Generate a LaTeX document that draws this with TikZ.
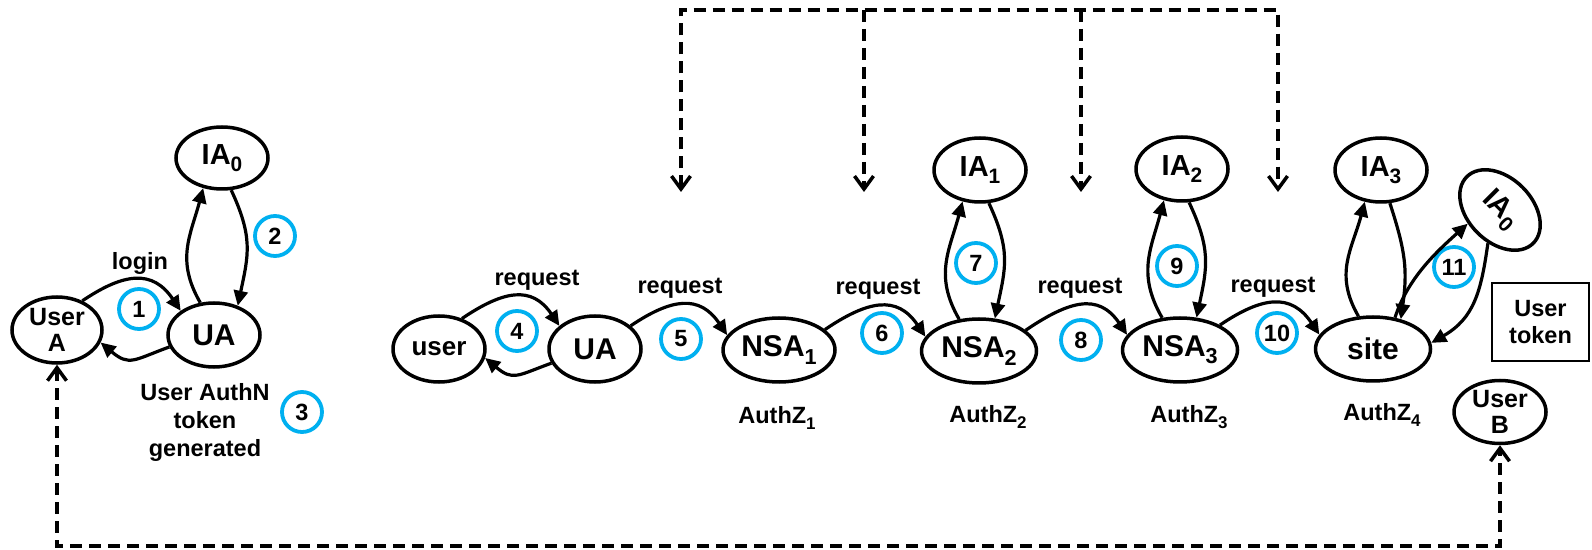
\documentclass[tikz,border=0pt]{standalone}
\usepackage{fontspec}
\setmainfont{Liberation Sans}
\usepackage{graphicx}
\usetikzlibrary{shapes.geometric,arrows.meta}
\definecolor{numblue}{HTML}{00B0F0}
% lowered, smaller index after a label
\newcommand\ix[1]{\raisebox{-0.24em}{\scalebox{0.72}{#1}}}
\newcommand\fbig{\fontsize{30}{32}\selectfont}
\newcommand\fia{\fontsize{29}{31}\selectfont}
\newcommand\fusr{\fontsize{25}{25.5}\selectfont}
\newcommand\flbl{\fontsize{23.5}{28}\selectfont}
\begin{document}
\begin{tikzpicture}[x=1pt,y=1pt,
  every node/.style={font=\bfseries},
  ell/.style={ellipse,draw,line width=3.5pt,inner sep=0pt,
    minimum width=92pt,minimum height=64pt,font=\bfseries\fbig},
  num/.style={circle,draw=numblue,line width=3.8pt,inner sep=0pt,
    minimum size=40pt,font=\bfseries\flbl},
  lbl/.style={inner sep=0pt,font=\bfseries\flbl,align=center},
  arr/.style={line width=3.2pt,-{Triangle[length=15pt,width=14pt]}},
  hop/.style={out=34,in=124,looseness=1.3},
  back/.style={out=200,in=-40,looseness=1.4},
  upl/.style={out=120,in=-105,looseness=1.1},
  dnr/.style={out=-65,in=78,looseness=1.15},
  dline/.style={line width=3.5pt,dash pattern=on 12pt off 7pt},
  vtip/.tip={Straight Barb[length=13pt,width=19pt]}]
\useasboundingbox (0,0) rectangle (1592,549);

% left group
\node[ell,minimum width=90pt,minimum height=66pt,font=\bfseries\fusr,align=center] (ua0) at (57,219) {User\\A};
\node[ell] (uaL) at (214,214) {UA};
\node[ell,minimum height=62pt,font=\bfseries\fia] (ia0L) at (222,391) {IA\ix{0}};

% request chain
\node[ell,minimum height=66pt,font=\bfseries\fontsize{26}{28}\selectfont] (usr) at (439,200) {user};
\node[ell,minimum height=66pt] (uaR) at (595,200) {UA};
\node[ell,minimum width=112pt] (nsa1) at (779,199) {NSA\ix{1}};
\node[ell,minimum width=115pt] (nsa2) at (979,198) {NSA\ix{2}};
\node[ell,minimum width=115pt] (nsa3) at (1180,199) {NSA\ix{3}};
\node[ell,minimum width=115pt] (site) at (1373,200) {site};
\node[ell,font=\bfseries\fia] (ia1) at (980,379) {IA\ix{1}};
\node[ell,font=\bfseries\fia] (ia2) at (1182,380) {IA\ix{2}};
\node[ell,font=\bfseries\fia] (ia3) at (1381,379) {IA\ix{3}};
\node[ell,rotate=-45,minimum width=94pt,font=\bfseries\fia] (ia0R) at (1500,339) {IA\ix{0}};
\node[ell,minimum height=63pt,font=\bfseries\fusr,align=center] (ub) at (1500,137) {User\\B};
\node[draw,line width=2.5pt,minimum width=97pt,minimum height=78pt,inner sep=0pt,
  font=\bfseries\fontsize{23.5}{27}\selectfont,align=center] (tok) at (1540.5,227) {User\\token};

% step numbers
\node[num] (c1) at (139,240) {1};
\node[num] (c2) at (275,313) {2};
\node[num] (c3) at (302,137) {3};
\node[num] (c4) at (517,218) {4};
\node[num] (c5) at (681,210) {5};
\node[num] (c6) at (882,216) {6};
\node[num] (c7) at (976,286) {7};
\node[num] (c8) at (1081,209) {8};
\node[num] (c9) at (1177,283) {9};
\node[num] (c10) at (1277,216) {10};
\node[num] (c11) at (1454,282) {11};

% labels
\node[lbl] (lgn) at (140,286) {login};
\node[lbl] (authn) at (205,127) {User AuthN\\token\\generated};
\node[lbl] (rq4) at (537,269) {request};
\node[lbl] (rq5) at (680,261) {request};
\node[lbl] (rq6) at (878,260) {request};
\node[lbl] (rq8) at (1080,261) {request};
\node[lbl] (rq10) at (1273,262) {request};
\node[lbl] (az1) at (777,131) {AuthZ\ix{1}};
\node[lbl] (az2) at (988,132) {AuthZ\ix{2}};
\node[lbl] (az3) at (1189,132) {AuthZ\ix{3}};
\node[lbl] (az4) at (1382,134) {AuthZ\ix{4}};

% solid message arrows
\draw[arr] (ua0.49) to[hop] (uaL.144);
\draw[arr] (uaL.195) to[back] (ua0.344);
\draw[arr] (uaL.113) to[upl] (ia0L.238);
\draw[arr] (ia0L.286) to[dnr] (uaL.51);

\draw[arr] (usr.53) to[hop] (uaR.147);
\draw[arr] (uaR.198) to[back] (usr.349);
\draw[arr] (uaR.33) to[hop] (nsa1.164);
\draw[arr] (nsa1.24) to[hop] (nsa2.165);
\draw[arr] (nsa2.24) to[hop] (nsa3.164);
\draw[arr] (nsa3.32) to[hop] (site.165);

\draw[arr] (nsa2.122) to[upl] (ia1.241);
\draw[arr] (ia1.285) to[dnr] (nsa2.64);
\draw[arr] (nsa3.119) to[upl] (ia2.240);
\draw[arr] (ia2.282) to[dnr] (nsa3.63);
\draw[arr] (site.114) to[upl] (ia3.243);
\draw[arr] (ia3.285) to[out=-72,in=82,looseness=1.1] (site.47);
\draw[arr] (site.55) to[out=72,in=222,looseness=0.9] (ia0R.248);
\draw[arr] (ia0R.295) to[out=-98,in=30,looseness=1.1] (site.6);

% dashed distribution lines
\coordinate (t1) at (681,539);
\coordinate (t2) at (864,539);
\coordinate (t3) at (1081,539);
\coordinate (t4) at (1278,539);
\coordinate (d1) at (681,357);
\coordinate (d2) at (864,357);
\coordinate (d3) at (1081,357);
\coordinate (d4) at (1278,357);
\draw[dline,vtip-vtip] (d1) -- (t1) -- (t4) -- (d4);
\draw[dline,-vtip] (t2) -- (d2);
\draw[dline,-vtip] (t3) -- (d3);

\coordinate (bl) at (57,3);
\coordinate (br) at (1500,3);
\draw[dline,vtip-vtip] (ua0.south) -- (bl) -- (br) -- (ub.south);
\end{tikzpicture}
\end{document}
